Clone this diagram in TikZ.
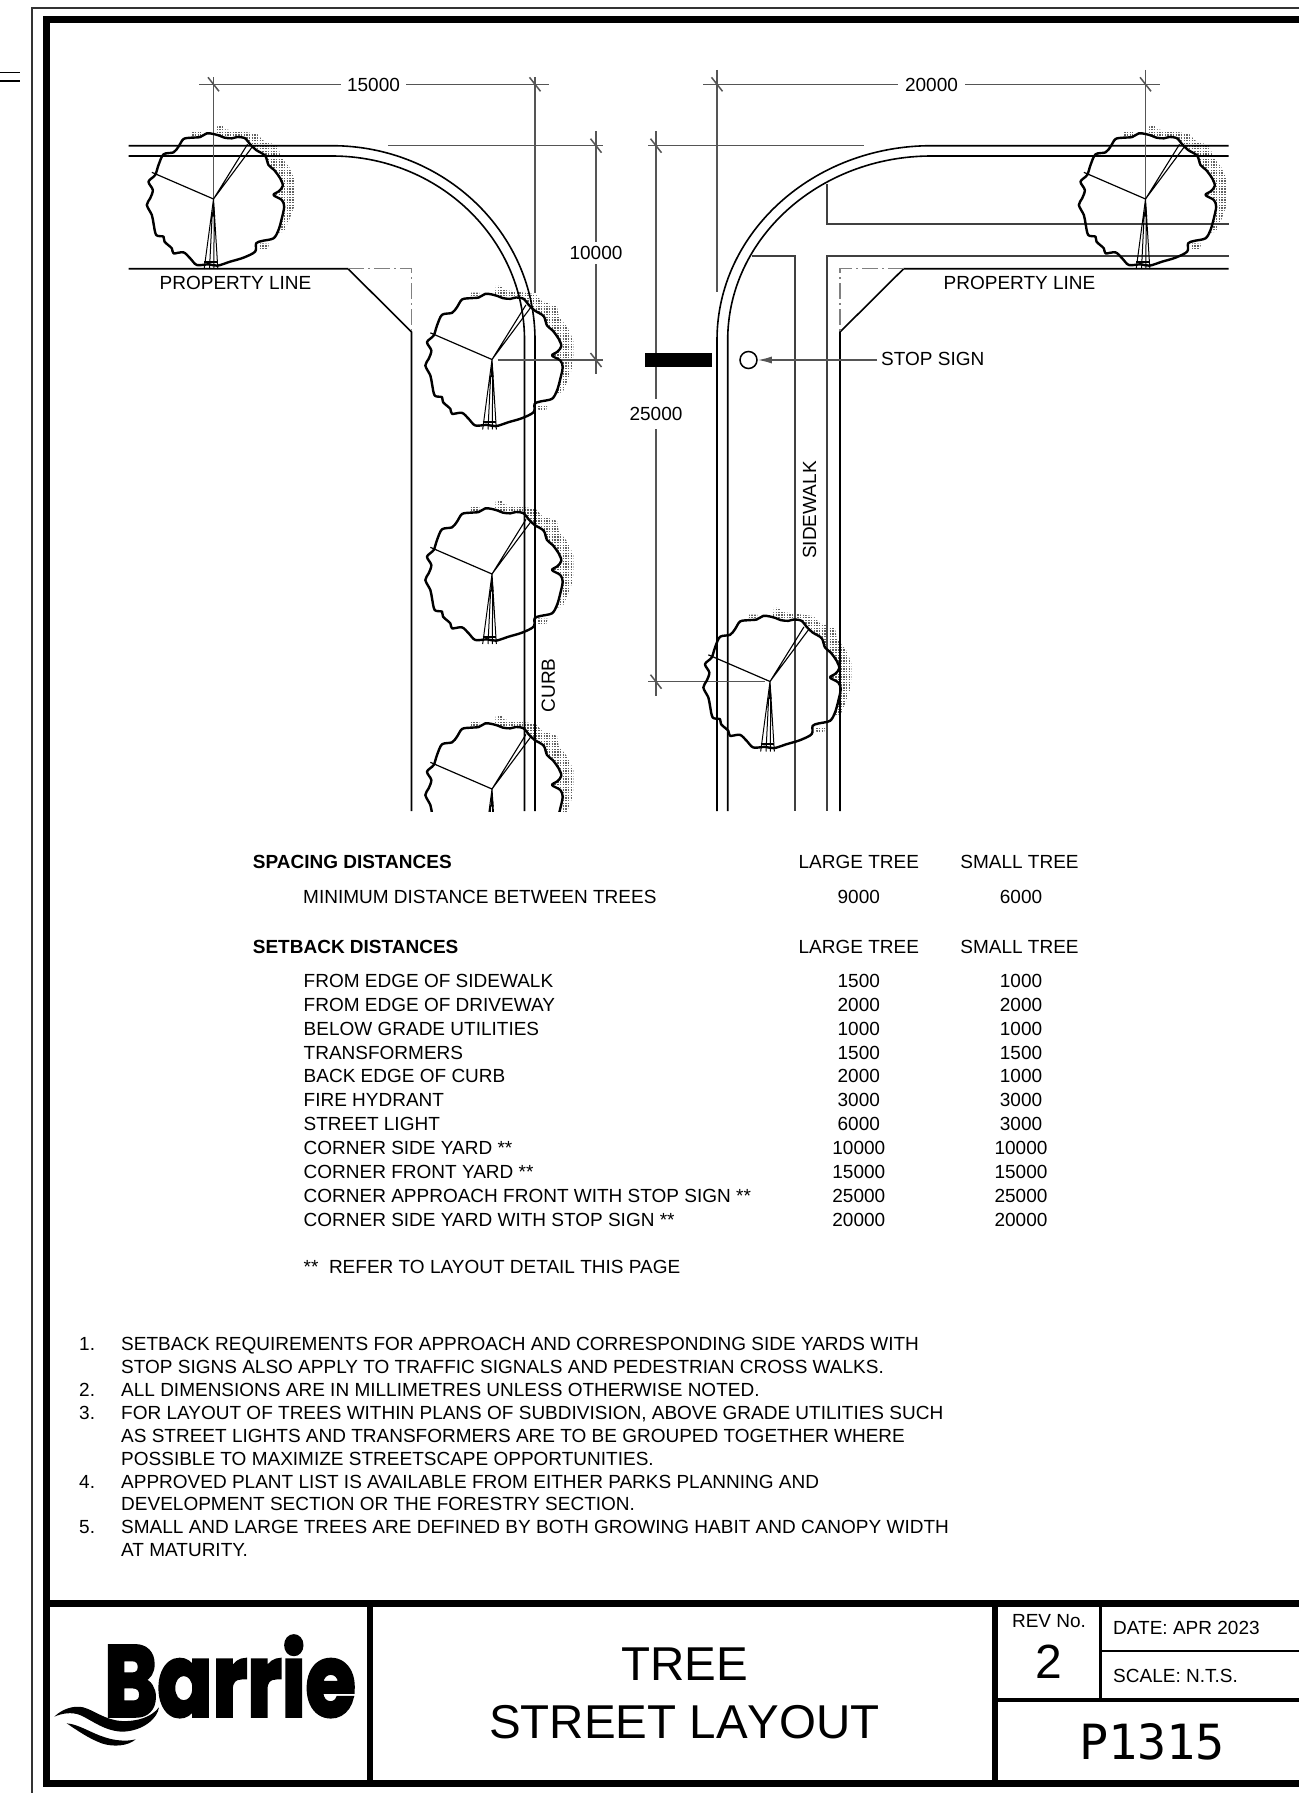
\documentclass[tikz,border=0pt]{standalone}
\usepackage{fontspec}
\setmainfont{Liberation Sans}
\newfontfamily\monofam{DejaVu Sans Mono}
\newfontfamily\logofont[BoldFeatures={FakeBold=3.5}]{Poppins}
\newfontfamily\titlefont[Kerning=Off]{Liberation Sans}
\usetikzlibrary{arrows.meta}
\definecolor{dimgray}{HTML}{555555}
\newcommand\fsz[1]{\fontsize{#1}{#1}\selectfont}
\tikzset{
  lab/.style={inner sep=0pt,text height=13.6pt,text depth=0pt,font=\fsz{19}},
  dimtext/.style={lab,fill=white,inner xsep=3pt,inner ysep=3pt},
  dimline/.style={draw=dimgray,line width=1.3pt},
  road/.style={draw=black,line width=1.6pt},
  walk/.style={draw=black!75,line width=1.4pt},
  dashdot/.style={draw=gray,line width=1.1pt,dash pattern=on 16pt off 4pt on 2pt off 4pt},
  thick band/.style={fill=black,draw=none},
  dotrow/.style={draw=black!62,line width=1.4pt,dash pattern=on 1.4pt off 1.3pt},
}
\newcommand\treeloop[1]{\path[#1] plot[smooth cycle,tension=.5] coordinates {
(250,57) (268,62) (283,68) (305,70) (322,66) (345,70) (360,88) (378,105) (405,122) (415,150) (432,165) (450,190) (458,212) (447,228) (430,240) (455,255) (462,275) (455,310) (445,345) (430,370) (395,378) (378,385) (375,410) (340,428) (300,440) (262,452) (235,448) (200,450) (180,430) (160,412) (130,415) (125,400) (103,380) (100,365) (78,360) (70,325) (65,300) (50,270) (60,250) (68,225) (55,200) (75,180) (85,150) (100,118) (130,112) (145,95) (160,72) (185,68) (210,66) (230,55)};}
\newcommand\treebase[2]{\begin{scope}[shift={(#1,#2)},x=.3333pt,y=-.3333pt,shift={(-250,-252)}]
  \begin{scope}
  \clip (258,58) -- (262,30) -- (280,32) -- (285,43) -- (335,50) -- (380,56) -- (398,76) -- (445,93) -- (450,123) -- (478,158) -- (494,195) -- (494,240) -- (492,275) -- (478,312) -- (462,350) -- (440,354) -- (440,300) -- (350,120) -- cycle
  (385,385) -- (417,386) -- (412,405) -- (390,405) -- cycle
  (185,51) -- (212,51) -- (212,75) -- (185,75) -- cycle;
  \foreach \dy in {0,...,47}{\draw[dotrow] (170,{28+\dy*8.1}) -- (500,{28+\dy*8.1});}
  \end{scope}
  \treeloop{fill=white}
\end{scope}}
\newcommand\treetop[2]{\begin{scope}[shift={(#1,#2)},x=.3333pt,y=-.3333pt,shift={(-250,-252)}]
  \treeloop{draw=black,line width=2.4pt,line join=round}
  \draw[line width=1.2pt] (250,252) -- (65,172);
  \draw[line width=1.1pt] (250,252) -- (352,88) (250,252) -- (366,96);
  \fill (250,252) -- (245,305) -- (255,305) -- cycle;
  \draw[line width=1pt] (250,252) -- (222,462) (250,252) -- (263,462) (246,300) -- (238,462) (252,300) -- (251,462);
  \draw[line width=2pt] (222,440) -- (262,440);
\end{scope}}
\newcommand\dimtick[2]{\draw[dimline,line width=1.5pt] (#1-5.5,#2-7) -- (#1+5.5,#2+7);}
\begin{document}
\begin{tikzpicture}[x=1pt,y=-1pt]
\useasboundingbox (0,0) rectangle (1299,1793);
\fill[white] (0,0) rectangle (1299,1793);
% page frame
\draw[black!80,line width=1.2pt] (1299,8) -- (32,8) -- (32,1793);
\draw[black,line width=1.2pt] (0,72.7) -- (20,72.7) (0,81) -- (20,81);
\fill[thick band] (43,16) rectangle (1299,23.3);
\fill[thick band] (43,16) rectangle (50,1787);
\fill[thick band] (43,1780) rectangle (1299,1787);
\fill[thick band] (43,1599.5) rectangle (1299,1606.5);
\fill[thick band] (367,1600) rectangle (373,1785);
\fill[thick band] (992,1600) rectangle (998,1785);
\fill[thick band] (1099,1603) rectangle (1102,1700);
\fill[thick band] (998,1698) rectangle (1299,1702);
\fill[thick band] (1100,1649.5) rectangle (1299,1652);
% tree bases
\treebase{213.5}{199}
\treebase{492}{359.5}
\treebase{492}{574}
\begin{scope}\clip (0,0) rectangle (1299,811); \treebase{492}{789} \end{scope}
\treebase{770}{681.5}
\treebase{1145.5}{199}
% roads, left
\draw[road] (128.5,145.7) -- (332,145.7) .. controls (444,145.7) and (535,232.7) .. (535,340) -- (535,811);
\draw[road] (128.5,156) -- (332,156) .. controls (438.3,156) and (524.5,238.4) .. (524.5,340) -- (524.5,811);
\draw[road] (128.5,268.7) -- (348,268.7) -- (411.5,332) -- (411.5,811);
\draw[dashdot] (348,268.7) -- (411.5,268.7) -- (411.5,332);
% roads, right
\draw[road] (1228.6,145.7) -- (931.5,145.7) .. controls (813,145.7) and (717,232.7) .. (717,340) -- (717,811);
\draw[road] (1228.6,156) -- (931.5,156) .. controls (819,156) and (727.7,238.4) .. (727.7,340) -- (727.7,811);
\draw[road] (1228.6,268.7) -- (903.7,268.7) -- (840,332) -- (840,811);
\draw[dashdot] (903.7,268.7) -- (840,268.7) -- (840,332);
\draw[walk] (827,184) -- (827,224) -- (1228.6,224);
\draw[walk] (1228.6,256) -- (827,256) -- (827,811);
\draw[walk] (752,256) -- (795,256) -- (795,811);
% dimensions
\coordinate (a15) at (199,84.3); \coordinate (b15) at (549,84.3);
\coordinate (a20) at (703,84.3); \coordinate (b20) at (1160,84.3);
\coordinate (a10) at (596,131); \coordinate (b10) at (596,374);
\coordinate (a25) at (656,131); \coordinate (b25) at (656,695.5);
\draw[dimline] (a15) -- (b15);
\draw[dimline] (a20) -- (b20);
\draw[dimline] (a10) -- (b10);
\draw[dimline] (a25) -- (b25);
\draw[dimline] (213.5,77) -- (213.5,198);
\draw[dimline] (535,77) -- (535,293);
\draw[dimline] (388,145.7) -- (603,145.7);
\draw[dimline] (497.5,360) -- (603,360);
\draw[dimline] (717,70) -- (717,292);
\draw[dimline] (1145.5,70) -- (1145.5,199);
\draw[dimline] (648,145.7) -- (864,145.7);
\draw[dimline] (648,681.7) -- (765,681.7);
\dimtick{213.5}{84.3}\dimtick{535}{84.3}\dimtick{717}{84.3}\dimtick{1145.5}{84.3}
\dimtick{596}{145.7}\dimtick{596}{360}\dimtick{656}{145.7}\dimtick{656}{681.7}
\node[dimtext,inner xsep=6pt] (t15) at (373.5,84.3) {15000};
\node[dimtext,inner xsep=7pt] (t20) at (931.5,84.3) {20000};
\node[dimtext,inner ysep=4pt] (t10) at (596,253) {10000};
\node[dimtext,inner ysep=8pt] (t25) at (656,414) {25000};
% stop bar and sign
\fill[black] (645,353) rectangle (711.7,367);
\node[draw=black,circle,line width=1.5pt,minimum size=17pt,inner sep=0pt] (sign) at (748.5,360) {};
\node[lab,anchor=west] (stoplab) at (881,358.5) {STOP SIGN};
\coordinate (stopend) at (877,360);
\draw[dimline,line width=1.5pt,-{Latex[length=14pt,width=7pt]}] (stopend) -- (sign.east);
% tree tops
\treetop{213.5}{199}
\treetop{492}{359.5}
\treetop{492}{574}
\begin{scope}\clip (0,0) rectangle (1299,811); \treetop{492}{789} \end{scope}
\treetop{770}{681.5}
\treetop{1145.5}{199}
% road labels
\node[lab,anchor=center] (pl1) at (235.5,283) {PROPERTY LINE};
\node[lab,anchor=center] (pl2) at (1019.5,283) {PROPERTY LINE};
\node[lab,anchor=center,rotate=90] (walklab) at (809.3,510) {SIDEWALK};
\node[lab,anchor=center,rotate=90] (curblab) at (548,685.5) {CURB};
% table
\node[lab,anchor=west] (h1) at (252.7,862) {\bfseries SPACING DISTANCES};
\node[lab] (h1a) at (858.8,862) {LARGE TREE};
\node[lab] (h1b) at (1019.5,862) {SMALL TREE};
\node[lab,anchor=west] (mintext) at (303,896.5) {MINIMUM DISTANCE BETWEEN TREES};
\node[lab] (mina) at (858.8,896.5) {9000};
\node[lab] (minb) at (1021,896.5) {6000};
\node[lab,anchor=west] (h2) at (252.7,947) {\bfseries SETBACK DISTANCES};
\node[lab] (h2a) at (858.8,947) {LARGE TREE};
\node[lab] (h2b) at (1019.5,947) {SMALL TREE};
\foreach \yy/\tt/\aa/\bb in {
981/FROM EDGE OF SIDEWALK/1500/1000,
1005/FROM EDGE OF DRIVEWAY/2000/2000,
1029/BELOW GRADE UTILITIES/1000/1000,
1053/TRANSFORMERS/1500/1500,
1076/BACK EDGE OF CURB/2000/1000,
1100/FIRE HYDRANT/3000/3000,
1124/STREET LIGHT/6000/3000,
1147.5/CORNER SIDE YARD **/10000/10000,
1171.5/CORNER FRONT YARD **/15000/15000,
1195.5/CORNER APPROACH FRONT WITH STOP SIGN **/25000/25000,
1219.5/CORNER SIDE YARD WITH STOP SIGN **/20000/20000}{
  \node[lab,anchor=west] (rt\yy) at (303.5,\yy) {\tt};
  \node[lab] (ra\yy) at (858.8,\yy) {\aa};
  \node[lab] (rb\yy) at (1021,\yy) {\bb};
}
\node[lab,anchor=west] (refer) at (303.5,1267) {**\ \ REFER TO LAYOUT DETAIL THIS PAGE};
% notes
\foreach \yy/\nn/\tt in {
1343.6/1./SETBACK REQUIREMENTS FOR APPROACH AND CORRESPONDING SIDE YARDS WITH,
1366.5//STOP SIGNS ALSO APPLY TO TRAFFIC SIGNALS AND PEDESTRIAN CROSS WALKS.,
1389.4/2./ALL DIMENSIONS ARE IN MILLIMETRES UNLESS OTHERWISE NOTED.,
1412.3/3./FOR LAYOUT OF TREES WITHIN PLANS OF SUBDIVISION{,} ABOVE GRADE UTILITIES SUCH,
1435.2//AS STREET LIGHTS AND TRANSFORMERS ARE TO BE GROUPED TOGETHER WHERE,
1458.3//POSSIBLE TO MAXIMIZE STREETSCAPE OPPORTUNITIES.,
1481.2/4./APPROVED PLANT LIST IS AVAILABLE FROM EITHER PARKS PLANNING AND,
1503.9//DEVELOPMENT SECTION OR THE FORESTRY SECTION.,
1526.8/5./SMALL AND LARGE TREES ARE DEFINED BY BOTH GROWING HABIT AND CANOPY WIDTH,
1549.7//AT MATURITY.}{
  \node[lab,anchor=west] (nt\yy) at (121,\yy) {\tt};
  \node[lab,anchor=west] (nn\yy) at (79,\yy) {\nn};
}
% title block
\node[inner sep=0pt,font={\titlefont\fsz{47.5}},text height=34pt,text depth=0pt] (title1) at (684.5,1663.5) {TREE};
\node[inner sep=0pt,font={\titlefont\fsz{47.5}},text height=34pt,text depth=0pt] (title2) at (684.5,1721.5) {STREET LAYOUT};
\node[lab] (rev) at (1049,1620.7) {REV No.};
\node[inner sep=0pt,font=\fsz{48},text height=34.5pt,text depth=0pt] (revn) at (1049,1661) {2};
\node[lab,anchor=west] (date) at (1113,1628) {DATE: APR 2023};
\node[lab,anchor=west] (scale) at (1113,1675.7) {SCALE: N.T.S.};
\node[inner sep=0pt,font={\monofam\fsz{48.5}},text height=35pt,text depth=0pt] (draw) at (1152,1741.6) {P1315};
% logo
\node[inner sep=0pt,anchor=base west,font={\logofont\bfseries\fsz{100}},xscale=.81,yscale=1.0,transform shape] (logo) at (104,1716) {Barrie};
\begin{scope}[shift={(45,1620)},x=.3333pt,y=-.3333pt]
\fill[black] (28,290) .. controls (50,268) and (85,255) .. (115,262) .. controls (150,272) and (180,300) .. (230,303) .. controls (280,305) and (320,290) .. (342,262) .. controls (338,295) and (295,332) .. (235,335) .. controls (180,335) and (140,300) .. (105,285) .. controls (80,275) and (50,280) .. (28,290) -- cycle;
\fill[black] (65,310) .. controls (100,312) and (140,340) .. (180,352) .. controls (210,362) and (245,365) .. (272,358) .. controls (250,378) and (205,382) .. (170,370) .. controls (130,355) and (95,330) .. (65,310) -- cycle;
\end{scope}
\end{tikzpicture}
\end{document}
